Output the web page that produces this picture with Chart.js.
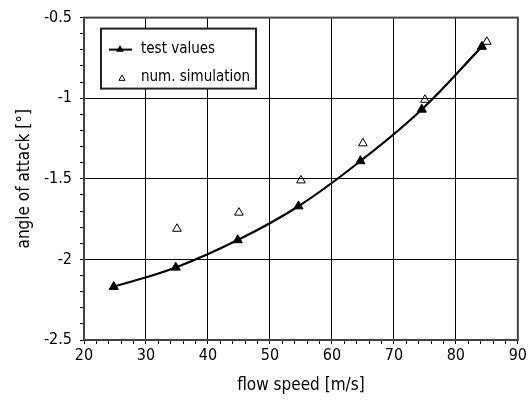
<!DOCTYPE html>
<html>
<head>
<meta charset="utf-8">
<script src="https://cdn.jsdelivr.net/npm/chart.js@4/dist/chart.umd.min.js"></script>
<style>
  html, body { margin: 0; padding: 0; background: #fff; }
  #wrap { width: 529px; height: 400px; }
</style>
</head>
<body>
<div id="wrap"><canvas id="chart" width="529" height="400"></canvas></div>
<script>
// test values (filled triangles + curve)
const speedTest = [24.8, 34.8, 44.8, 54.6, 64.6, 74.5, 84.2];
const angleTest = [-2.17, -2.05, -1.88, -1.67, -1.39, -1.07, -0.68];
// numerical simulation (open triangles)
const speedSim = [35, 45, 55, 65, 75, 85];
const angleSim = [-1.81, -1.71, -1.51, -1.28, -1.01, -0.65];

const xTicks = [20, 30, 40, 50, 60, 70, 80, 90];
const yTicks = [-2.5, -2, -1.5, -1, -0.5];

const FONT = "'DejaVu Sans Condensed', 'DejaVu Sans', sans-serif";
const near = (v, list) => list.some(t => Math.abs(v - t) < 1e-6);

function tri(ctx, x, y, r, fill) {
  ctx.beginPath();
  ctx.moveTo(x, y - r);
  ctx.lineTo(x + r * 0.866, y + r / 2);
  ctx.lineTo(x - r * 0.866, y + r / 2);
  ctx.closePath();
  if (fill) { ctx.fillStyle = '#000'; ctx.fill(); }
  else { ctx.lineWidth = 1; ctx.strokeStyle = '#000'; ctx.stroke(); }
}

// frame around plot + boxed legend
const frameAndLegend = {
  id: 'frameAndLegend',
  afterDraw(chart) {
    const {ctx, chartArea: a} = chart;
    ctx.save();
    ctx.strokeStyle = '#444';
    ctx.lineWidth = 2;
    ctx.strokeRect(a.left, a.top, a.right - a.left, a.bottom - a.top);

    const bx = a.left + 17, by = a.top + 11, bw = 155, bh = 60;
    ctx.fillStyle = '#fff';
    ctx.fillRect(bx, by, bw, bh);
    ctx.strokeStyle = '#222';
    ctx.strokeRect(bx, by, bw, bh);

    const ds = chart.data.datasets;
    ctx.font = '15px ' + FONT;
    ctx.textBaseline = 'middle';
    ctx.fillStyle = '#000';

    const y1 = by + 21, y2 = by + 49;
    ctx.beginPath();
    ctx.lineWidth = 2;
    ctx.strokeStyle = '#000';
    ctx.moveTo(bx + 8, y1);
    ctx.lineTo(bx + 31, y1);
    ctx.stroke();
    tri(ctx, bx + 19, y1, 4.5, true);
    ctx.fillStyle = '#000';
    ctx.fillText(ds[0].label, bx + 40, y1);

    tri(ctx, bx + 21, y2 + 1, 3.5, false);
    ctx.fillText(ds[1].label, bx + 40, y2);
    ctx.restore();
  }
};

new Chart(document.getElementById('chart').getContext('2d'), {
  type: 'scatter',
  data: {
    datasets: [
      {
        label: 'test values',
        data: speedTest.map((x, i) => ({x, y: angleTest[i]})),
        showLine: true,
        borderColor: '#000',
        borderWidth: 2.2,
        tension: 0.4,
        pointStyle: 'triangle',
        pointRadius: 5.3,
        pointBackgroundColor: '#000',
        pointBorderColor: '#000',
        pointBorderWidth: 1
      },
      {
        label: 'num. simulation',
        data: speedSim.map((x, i) => ({x, y: angleSim[i]})),
        showLine: false,
        pointStyle: 'triangle',
        pointRadius: 5,
        pointBackgroundColor: 'rgba(255,255,255,0)',
        pointBorderColor: '#000',
        pointBorderWidth: 1
      }
    ]
  },
  options: {
    responsive: false,
    animation: false,
    layout: { padding: { left: 0, right: 11, top: 14, bottom: 0 } },
    plugins: { legend: { display: false }, tooltip: { enabled: false } },
    scales: {
      x: {
        type: 'linear', min: 20, max: 90,
        afterFit: s => { s.height = 60; },
        ticks: {
          stepSize: 2, autoSkip: false, maxRotation: 0, padding: 2,
          color: '#000', font: { family: FONT, size: 16 },
          callback: v => near(v, xTicks) ? String(Math.round(v)) : ''
        },
        grid: {
          color: c => near(c.tick.value, xTicks) ? '#000' : 'rgba(0,0,0,0)',
          tickColor: '#000', tickLength: 4, lineWidth: 1
        },
        border: { display: true, color: '#444', width: 2 },
        title: {
          display: true, text: 'flow speed [m/s]', color: '#000',
          font: { family: FONT, size: 17 }, padding: { top: 0, bottom: 4 }
        }
      },
      y: {
        type: 'linear', min: -2.5, max: -0.5,
        afterFit: s => { s.width = 84; },
        ticks: {
          stepSize: 0.1, autoSkip: false, padding: 8,
          color: '#000', font: { family: FONT, size: 16 },
          callback: v => near(v, yTicks) ? String(Math.round(v * 10) / 10) : ''
        },
        grid: {
          color: c => near(c.tick.value, yTicks) ? '#000' : 'rgba(0,0,0,0)',
          tickColor: '#000', tickLength: 4, lineWidth: 1
        },
        border: { display: true, color: '#444', width: 2 },
        title: {
          display: true, text: 'angle of attack [°]', color: '#000',
          font: { family: FONT, size: 17 }, padding: { top: 14, bottom: 0 }
        }
      }
    }
  },
  plugins: [frameAndLegend]
});
</script>
</body>
</html>
